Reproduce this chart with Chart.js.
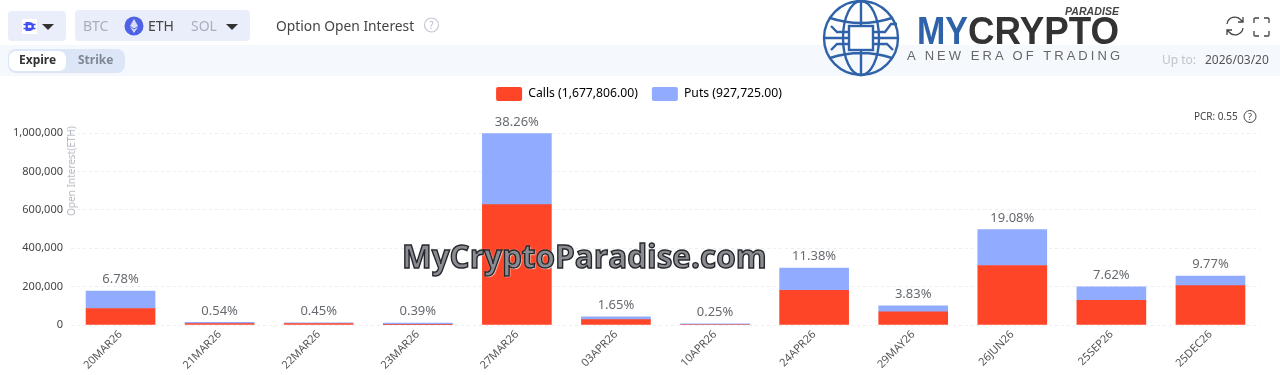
<!DOCTYPE html>
<html>
<head>
<meta charset="utf-8">
<title>Option Open Interest</title>
<script src="https://cdn.jsdelivr.net/npm/chart.js@4"></script>
<style>
html, body { margin: 0; padding: 0; background: #fff; width: 1280px; height: 375px; overflow: hidden; font-family: "Noto Sans", sans-serif; }
#band { position: absolute; left: 0; top: 45px; width: 1280px; height: 31px; background: #f5f9fe; }
#chart { position: absolute; left: 0; top: 0; }
.t { position: absolute; white-space: nowrap; line-height: 1; }
.pill { position: absolute; background: #e9eefa; border-radius: 4px; }
.arrow { position: absolute; width: 0; height: 0; border-left: 6px solid transparent; border-right: 6px solid transparent; border-top: 6px solid #333; }
#axisTitle { left: 71px; top: 171px; font-size: 10px; color: #b4b8c0; transform: translate(-50%, -50%) rotate(-90deg); }
#watermark { left: 402px; top: 234px; font: bold 31.5px "Open Sans", sans-serif; color: #8a8c92; -webkit-text-stroke: 1.4px #26282c; text-shadow: 0 0 2px #fff, 1px 1px 1px #fff; }
svg { position: absolute; overflow: visible; }
</style>
</head>
<body>
<div id="band"></div>
<canvas id="chart" width="1280" height="375"></canvas>

<div class="pill" style="left:8px;top:11px;width:58px;height:30px"></div>
<div class="pill" style="left:75px;top:10px;width:175px;height:31px"></div>
<svg style="left:0;top:0" width="10" height="10">
  <rect x="22" y="19" width="15" height="15" fill="#fff"/>
  <text x="29.5" y="31" font-family="DejaVu Sans" font-weight="bold" font-size="12" fill="#3d4df0" text-anchor="middle">D</text>
  <path d="M23.5 24.5 h12 M23.5 28.5 h12" stroke="#3d4df0" stroke-width="1.3"/>
  <circle cx="134" cy="26" r="9.5" fill="#4f62e6"/>
  <path d="M134 19 l4 7 -4 2.5 -4 -2.5z M134 29.5 l4 -2.4 -4 5.9 -4 -5.9z" fill="#d5dcfb"/>
  <circle cx="431.5" cy="25" r="7" fill="none" stroke="#c3c9d2" stroke-width="1.2"/>
  <text x="431.5" y="29" font-size="10" fill="#b4bac4" text-anchor="middle" font-family="Noto Sans">?</text>
  <circle cx="1250" cy="116.5" r="6" fill="none" stroke="#444" stroke-width="1"/>
  <text x="1250" y="120" font-size="9" fill="#444" text-anchor="middle" font-family="Noto Sans">?</text>
  <path d="M1227 25 a8 8 0 0 1 14 -4 l2 2 M1243 18 v5 h-5 M1243 29 a8 8 0 0 1 -14 4 l-2 -2 M1227 36 v-5 h5" transform="translate(0,-1)" fill="none" stroke="#444" stroke-width="1.3"/>
  <path d="M1254 23 v-4 a1 1 0 0 1 1 -1 h4 M1264 18 h4 a1 1 0 0 1 1 1 v4 M1269 31 v4 a1 1 0 0 1 -1 1 h-4 M1259 36 h-4 a1 1 0 0 1 -1 -1 v-4" fill="none" stroke="#444" stroke-width="1.3"/>
</svg>
<div class="arrow" style="left:42px;top:24px"></div>
<div class="arrow" style="left:226px;top:24px"></div>
<div class="t" style="left:83px;top:19px;font-size:14px;color:#a7afbd">BTC</div>
<div class="t" style="left:148px;top:19px;font-size:14px;color:#444">ETH</div>
<div class="t" style="left:191px;top:19px;font-size:14px;color:#a7afbd">SOL</div>
<div class="t" style="left:276px;top:19px;font-size:13.8px;color:#444">Option Open Interest</div>

<div class="pill" style="left:8px;top:49px;width:117px;height:24px;background:#dce6f7;border-radius:8px"></div>
<div class="pill" style="left:9px;top:51px;width:57px;height:20px;background:#fff;border-radius:7px"></div>
<div class="t" style="left:19px;top:54px;font-size:12px;font-weight:bold;color:#333">Expire</div>
<div class="t" style="left:78px;top:54px;font-size:12px;font-weight:bold;color:#7e8794">Strike</div>
<div class="t" style="left:1162px;top:54px;font-size:12px;color:#c0c4cb">Up to:</div>
<div class="t" style="left:1205px;top:54px;font-size:12px;color:#555">2026/03/20</div>
<div class="t" style="left:1194px;top:111px;font-size:10px;color:#444">PCR: 0.55</div>
<div class="t" id="axisTitle">Open Interest(ETH)</div>

<svg style="left:0;top:0" width="10" height="10">
  <g fill="none" stroke="#2f62a8" stroke-width="2.4">
    <circle cx="861" cy="38" r="37"/>
    <ellipse cx="861" cy="38" rx="18" ry="37"/>
    <path d="M861 1 v25 M861 50 v25 M830 18 q31 10 62 0 M830 58 q31 -10 62 0 M824 38 h25 M873 38 h25"/>
    <rect x="849" y="26" width="24" height="24" fill="#fff"/>
    <path d="M873 32 h12 l6 -8 h6 M873 44 h14 l6 6 M849 32 h-12 l-6 -6 M849 44 h-12 l-6 6"/>
  </g>
  <text x="917" y="44" font-family="Liberation Sans" font-weight="bold" font-size="38" textLength="51" lengthAdjust="spacingAndGlyphs" fill="#2f62a8">MY</text>
  <text x="968" y="44" font-family="Liberation Sans" font-weight="bold" font-size="38" textLength="151" lengthAdjust="spacingAndGlyphs" fill="#333">CRYPTO</text>
  <text x="1065" y="14.5" font-family="Liberation Sans" font-weight="bold" font-style="italic" font-size="10.5" textLength="54" fill="#444">PARADISE</text>
  <text x="907" y="60" font-family="Liberation Sans" font-size="13" textLength="213" fill="#666">A NEW ERA OF TRADING</text>
</svg>
<div class="t" id="watermark">MyCryptoParadise.com</div>

<script>
const categories = ["20MAR26","21MAR26","22MAR26","23MAR26","27MAR26","03APR26","10APR26","24APR26","29MAY26","26JUN26","25SEP26","25DEC26"];
const calls = [86000, 7000, 8000, 2000, 627000, 28000, 2500, 180000, 68000, 310000, 128000, 205000];
const puts = [90700, 7100, 3700, 8200, 370000, 15000, 4000, 116500, 31800, 187000, 70500, 49500];
const sharePct = ["6.78%","0.54%","0.45%","0.39%","38.26%","1.65%","0.25%","11.38%","3.83%","19.08%","7.62%","9.77%"];
const callsLabel = "Calls (1,677,806.00)";
const putsLabel = "Puts (927,725.00)";

// percent above each stack
const shareLabels = {
    id: "shareLabels",
    afterDatasetsDraw(chart) {
        const ctx = chart.ctx;
        const top = chart.getDatasetMeta(1).data;
        ctx.save();
        ctx.font = '13px "Noto Sans"';
        ctx.fillStyle = "#666a70";
        ctx.textAlign = "center";
        ctx.textBaseline = "middle";
        top.forEach((bar, i) => ctx.fillText(sharePct[i], bar.x, bar.y - 11.5));
        ctx.restore();
    }
};

// extra room under the legend, and keep it centred on the full page width
const legendGap = {
    id: "legendGap",
    beforeLayout(chart) {
        const legend = chart.legend;
        if (legend._gapDone) return;
        const fit = legend.fit;
        legend.fit = function () {
            fit.call(this);
            this.height += 22;
        };
        legend._gapDone = true;
    },
    afterLayout(chart) {
        chart.legend.left += 9;
        chart.legend.right += 9;
    }
};

new Chart(document.getElementById("chart"), {
    type: "bar",
    data: {
        labels: categories,
        datasets: [
            { label: callsLabel, data: calls, backgroundColor: "#ff4528", barThickness: 69, stack: "oi" },
            { label: putsLabel, data: puts, backgroundColor: "#91acff", barThickness: 69, stack: "oi" }
        ]
    },
    options: {
        responsive: false,
        animation: false,
        layout: { padding: { top: 73, right: 20, left: 0, bottom: 0 } },
        plugins: {
            tooltip: { enabled: false },
            legend: {
                position: "top",
                labels: {
                    boxWidth: 26,
                    boxHeight: 14,
                    padding: 14,
                    color: "#555",
                    font: { family: "Noto Sans", size: 12.2 },
                    generateLabels(chart) {
                        return chart.data.datasets.map((d, i) => ({
                            text: d.label,
                            fillStyle: d.backgroundColor,
                            strokeStyle: d.backgroundColor,
                            lineWidth: 0,
                            borderRadius: 2,
                            datasetIndex: i
                        }));
                    }
                }
            }
        },
        scales: {
            x: {
                stacked: true,
                grid: { display: false, drawTicks: false },
                border: { display: false },
                ticks: { minRotation: 45, maxRotation: 45, color: "#555", font: { family: "Noto Sans", size: 11 }, padding: 3 }
            },
            y: {
                stacked: true,
                min: 0,
                max: 1000000,
                afterFit(scale) { scale.width = 71; },
                border: { display: false, dash: [3, 3] },
                grid: { color: "#eceef2", drawTicks: false },
                ticks: {
                    stepSize: 200000,
                    padding: 8,
                    color: "#444",
                    font: { family: "Noto Sans", size: 11 },
                    callback: v => v.toLocaleString("en-US")
                }
            }
        }
    },
    plugins: [shareLabels, legendGap]
});
</script>
</body>
</html>
